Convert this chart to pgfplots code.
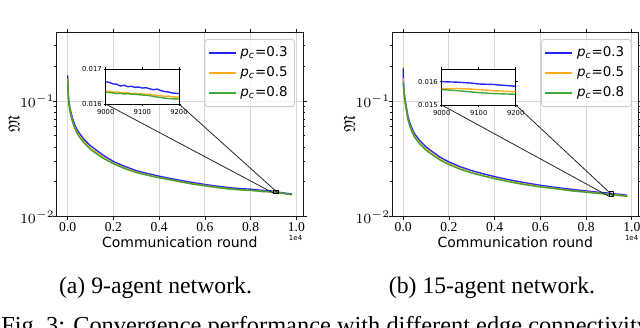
\documentclass[border=0pt]{standalone}
\usepackage{amsfonts}
\usepackage{fontspec}
\setmainfont{Liberation Serif}
\setsansfont{DejaVu Sans}
\usepackage{pgfplots}
\usepackage{pgfplotstable}
\pgfplotsset{compat=1.18}
\definecolor{cB}{HTML}{0000FF}
\definecolor{cO}{HTML}{FFA500}
\definecolor{cG}{HTML}{2CA02C}
\tikzset{
  pB/.style={cB, line width=0.7pt, opacity=0.85},
  pO/.style={cO, line width=0.7pt, opacity=0.9},
  pG/.style={cG, line width=0.7pt, opacity=0.9},
}

% 9-agent network
\pgfplotstableread{
x b o g
0 0.167 0.155 0.150
15 0.125 0.119 0.116
50 0.100 0.095 0.093
100 0.087 0.0827 0.0809
200 0.072 0.0684 0.0670
300 0.063 0.0599 0.0586
400 0.057 0.0542 0.0530
500 0.053 0.0504 0.0493
700 0.047 0.0447 0.0437
1000 0.041 0.0390 0.0381
1300 0.037 0.0354 0.0345
1600 0.0335 0.0322 0.0316
2000 0.0300 0.0290 0.0287
2500 0.0272 0.0263 0.0260
3000 0.0250 0.0243 0.0241
3500 0.0236 0.0230 0.0228
4000 0.0224 0.0218 0.0217
4500 0.0214 0.0209 0.0208
5000 0.0205 0.0200 0.0199
5500 0.0197 0.0192 0.0191
6000 0.0190 0.0186 0.0185
6500 0.0184 0.0180 0.0179
7000 0.0179 0.0175 0.0174
7500 0.0175 0.0171 0.0171
8000 0.0173 0.0169 0.0169
8500 0.0169 0.0166 0.0165
9000 0.01665 0.01638 0.01634
9200 0.0163 0.01619 0.01614
9500 0.0160 0.0158 0.0158
9800 0.0157 0.0155 0.0155
}\dataA
\pgfplotstableread{
x b o g
9000 0.01664 0.01636 0.01634
9010 0.01662 0.01637 0.01633
9020 0.01658 0.01634 0.01632
9030 0.01657 0.01635 0.01630
9040 0.01652 0.01633 0.01631
9050 0.01654 0.01632 0.01629
9060 0.01650 0.01632 0.01630
9070 0.01651 0.01630 0.01628
9080 0.01648 0.01631 0.01628
9090 0.01649 0.01629 0.01627
9100 0.01646 0.01629 0.01626
9110 0.01647 0.01628 0.01625
9120 0.01644 0.01628 0.01624
9130 0.01641 0.01626 0.01622
9140 0.01643 0.01625 0.01620
9150 0.01639 0.01624 0.01619
9160 0.01636 0.01622 0.01617
9170 0.01635 0.01623 0.01616
9180 0.01632 0.01621 0.01615
9190 0.01631 0.01620 0.01615
9200 0.01630 0.01620 0.01614
}\insetA

% 15-agent network
\pgfplotstableread{
x b o g
0 0.194 0.158 0.147
15 0.140 0.133 0.130
50 0.115 0.109 0.107
100 0.099 0.094 0.092
200 0.075 0.0713 0.0698
300 0.064 0.0609 0.0596
400 0.057 0.0543 0.0532
500 0.052 0.0496 0.0486
700 0.046 0.0439 0.0430
1000 0.040 0.0382 0.0375
1300 0.0362 0.0347 0.0340
1600 0.0328 0.0315 0.0310
2000 0.0297 0.0286 0.0282
2500 0.0270 0.0260 0.0257
3000 0.0250 0.0241 0.0239
3500 0.0235 0.0227 0.0225
4000 0.0222 0.0215 0.0213
4500 0.0211 0.0205 0.0203
5000 0.0202 0.0196 0.0194
5500 0.0194 0.0189 0.0187
6000 0.0187 0.0182 0.0181
6500 0.0181 0.0177 0.0176
7000 0.0176 0.0172 0.0171
7500 0.0171 0.0167 0.0166
8000 0.0167 0.0164 0.0163
8500 0.0163 0.0160 0.0159
9000 0.0160 0.01569 0.01566
9200 0.01579 0.01557 0.01546
9500 0.0156 0.0153 0.0152
9800 0.0153 0.0151 0.0150
}\dataB
\pgfplotstableread{
x b o g
9000 0.01600 0.01569 0.01566
9020 0.01599 0.01570 0.01564
9040 0.01598 0.01571 0.01562
9060 0.01596 0.01570 0.01559
9080 0.01594 0.01568 0.01556
9100 0.01590 0.01566 0.01553
9120 0.01589 0.01564 0.01551
9140 0.01588 0.01561 0.01549
9160 0.01585 0.01560 0.01548
9180 0.01583 0.01558 0.01547
9200 0.01580 0.01557 0.01546
}\insetB

\begin{document}
\begin{tikzpicture}
\useasboundingbox (0,0) rectangle (320pt,-163.5pt);
\clip (0,0) rectangle (320pt,-163.5pt);

% ---------- (a) ----------
\begin{axis}[name=mainA, at={(28.25pt,-108.35pt)}, anchor=south west,
    width=123.25pt, height=92.2pt, scale only axis,
    xmin=-490, xmax=10290, ymode=log, ymin=0.01, ymax=0.393,
    xtick={0,2000,4000,6000,8000,10000},
    xticklabels={0.0,0.2,0.4,0.6,0.8,1.0},
    scaled x ticks=false,
    ytick={0.01,0.1},
    minor ytick={0.02,0.03,0.04,0.05,0.06,0.07,0.08,0.09,0.2,0.3},
    tick align=outside, major tick length=1.75pt, minor tick length=1pt,
    xmajorgrids, ymajorgrids,
    grid style={draw=black!16, line width=0.5pt},
    axis line style={black!90, line width=0.5pt},
    tick style={black!90, line width=0.4pt},
    xticklabel style={font=\fontsize{6.8}{7}\selectfont, inner sep=0pt, yshift=-0.9pt},
    yticklabel style={font=\fontsize{7}{8}\selectfont, inner sep=0.3pt, xshift=1.3pt},
    xlabel={Communication round},
    xlabel style={font=\sffamily\fontsize{7}{8}\selectfont, at={(axis description cs:0.5,0)}, anchor=base, yshift=-15.15pt},
    ylabel={$\mathfrak{M}$},
    ylabel style={font=\fontsize{8}{9}\selectfont, at={(axis description cs:-0.1724,0.5)}, anchor=center},
    legend cell align=left,
    legend image code/.code={\draw[#1, line width=0.75pt] (0pt,0pt) -- (13.5pt,0pt);},
    legend style={at={(axis description cs:0.9675,0.9637)}, anchor=north east, font=\sffamily\fontsize{6.7}{7.5}\selectfont,
      draw=black!20, rounded corners=1.5pt, fill=white, fill opacity=0.8, text opacity=1,
      inner xsep=1.5pt, inner ysep=2.4pt, row sep=1.1pt, nodes={inner xsep=2pt, inner ysep=1.2pt},
      /tikz/every even column/.append style={column sep=2.5pt}},
  ]
\addplot[pB] table[x=x,y=b]{\dataA};
\addlegendentry{\textit{p}\textsubscript{\textit{c}}=0.3}
\addplot[pO] table[x=x,y=o]{\dataA};
\addlegendentry{\textit{p}\textsubscript{\textit{c}}=0.5}
\addplot[pG] table[x=x,y=g]{\dataA};
\addlegendentry{\textit{p}\textsubscript{\textit{c}}=0.8}
\draw[black, line width=0.5pt] (axis cs:9000,0.016) rectangle (axis cs:9200,0.017);
\coordinate (zAl) at (axis cs:9000,0.016);
\coordinate (zAr) at (axis cs:9200,0.016);
\end{axis}
\node[anchor=base east, font=\sffamily\fontsize{3.5}{4}\selectfont, inner sep=0pt] at (151.3pt,-120.3pt) {1e4};

\begin{axis}[name=insA, at={(52.85pt,-52pt)}, anchor=south west,
    width=36.65pt, height=17.35pt, scale only axis,
    xmin=9000, xmax=9200, ymin=0.016, ymax=0.017,
    axis background/.style={fill=white},
    scaled x ticks=false, scaled y ticks=false,
    xtick={9000,9100,9200}, xticklabels={9000,9100,9200},
    ytick={0.016,0.017}, yticklabels={0.016,0.017},
    tick align=outside, major tick length=1pt,
    axis line style={black, line width=0.5pt},
    tick style={black, line width=0.4pt},
    ticklabel style={font=\sffamily\fontsize{3.4}{4}\selectfont, inner sep=0.8pt},
    xticklabel style={yshift=-0.6pt},
  ]
\addplot[pB] table[x=x,y=b]{\insetA};
\addplot[pO] table[x=x,y=o]{\insetA};
\addplot[pG] table[x=x,y=g]{\insetA};
\end{axis}
\draw[black!85, line width=0.4pt] (insA.south west) -- (zAl);
\draw[black!85, line width=0.4pt] (insA.south east) -- (zAr);

% ---------- (b) ----------
\begin{axis}[name=mainB, at={(196pt,-108.35pt)}, anchor=south west,
    width=123.25pt, height=92.2pt, scale only axis,
    xmin=-490, xmax=10290, ymode=log, ymin=0.01, ymax=0.393,
    xtick={0,2000,4000,6000,8000,10000},
    xticklabels={0.0,0.2,0.4,0.6,0.8,1.0},
    scaled x ticks=false,
    ytick={0.01,0.1},
    minor ytick={0.02,0.03,0.04,0.05,0.06,0.07,0.08,0.09,0.2,0.3},
    tick align=outside, major tick length=1.75pt, minor tick length=1pt,
    xmajorgrids, ymajorgrids,
    grid style={draw=black!16, line width=0.5pt},
    axis line style={black!90, line width=0.5pt},
    tick style={black!90, line width=0.4pt},
    xticklabel style={font=\fontsize{6.8}{7}\selectfont, inner sep=0pt, yshift=-0.9pt},
    yticklabel style={font=\fontsize{7}{8}\selectfont, inner sep=0.3pt, xshift=1.3pt},
    xlabel={Communication round},
    xlabel style={font=\sffamily\fontsize{7}{8}\selectfont, at={(axis description cs:0.5,0)}, anchor=base, yshift=-15.15pt},
    ylabel={$\mathfrak{M}$},
    ylabel style={font=\fontsize{8}{9}\selectfont, at={(axis description cs:-0.1724,0.5)}, anchor=center},
    legend cell align=left,
    legend image code/.code={\draw[#1, line width=0.75pt] (0pt,0pt) -- (13.5pt,0pt);},
    legend style={at={(axis description cs:0.972,0.9637)}, anchor=north east, font=\sffamily\fontsize{6.7}{7.5}\selectfont,
      draw=black!20, rounded corners=1.5pt, fill=white, fill opacity=0.8, text opacity=1,
      inner xsep=1.5pt, inner ysep=2.4pt, row sep=1.1pt, nodes={inner xsep=2pt, inner ysep=1.2pt},
      /tikz/every even column/.append style={column sep=2.5pt}},
  ]
\addplot[pB] table[x=x,y=b]{\dataB};
\addlegendentry{\textit{p}\textsubscript{\textit{c}}=0.3}
\addplot[pO] table[x=x,y=o]{\dataB};
\addlegendentry{\textit{p}\textsubscript{\textit{c}}=0.5}
\addplot[pG] table[x=x,y=g]{\dataB};
\addlegendentry{\textit{p}\textsubscript{\textit{c}}=0.8}
\draw[black, line width=0.5pt] (axis cs:9000,0.015) rectangle (axis cs:9200,0.01653);
\coordinate (zBl) at (axis cs:9000,0.015);
\coordinate (zBr) at (axis cs:9200,0.015);
\end{axis}
\node[anchor=base east, font=\sffamily\fontsize{3.5}{4}\selectfont, inner sep=0pt] at (319.3pt,-120.3pt) {1e4};

\begin{axis}[name=insB, at={(220.85pt,-52.5pt)}, anchor=south west,
    width=37pt, height=17.85pt, scale only axis,
    xmin=9000, xmax=9200, ymin=0.015, ymax=0.01653,
    axis background/.style={fill=white},
    scaled x ticks=false, scaled y ticks=false,
    xtick={9000,9100,9200}, xticklabels={9000,9100,9200},
    ytick={0.015,0.016}, yticklabels={0.015,0.016},
    tick align=outside, major tick length=1pt,
    axis line style={black, line width=0.5pt},
    tick style={black, line width=0.4pt},
    ticklabel style={font=\sffamily\fontsize{3.4}{4}\selectfont, inner sep=0.8pt},
    xticklabel style={yshift=-0.6pt},
  ]
\addplot[pB] table[x=x,y=b]{\insetB};
\addplot[pO] table[x=x,y=o]{\insetB};
\addplot[pG] table[x=x,y=g]{\insetB};
\end{axis}
\draw[black!85, line width=0.4pt] (insB.south west) -- (zBl);
\draw[black!85, line width=0.4pt] (insB.south east) -- (zBr);

% ---------- captions ----------
\node[anchor=base, font=\fontsize{11.86}{13}\selectfont, inner sep=0pt] at (77.75pt,-146.6pt) {(a) 9-agent network.};
\node[anchor=base, font=\fontsize{11.86}{13}\selectfont, inner sep=0pt] at (246pt,-146.6pt) {(b) 15-agent network.};
\node[anchor=base west, font=\fontsize{12.2}{13}\selectfont, inner sep=0pt] at (0.5pt,-166.5pt) {Fig.~3: Convergence performance with different edge connectivity probabilities.};
\end{tikzpicture}
\end{document}
